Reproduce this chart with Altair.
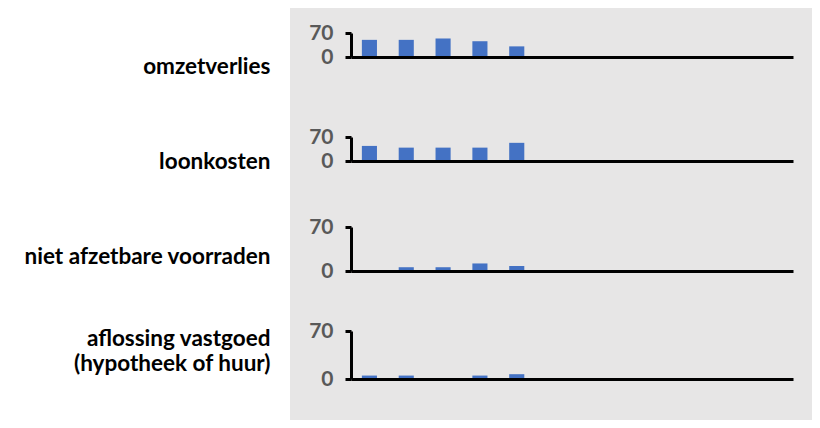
import altair as alt
import pandas as pd

# ---- data ----
slots = ["1", "2", "3", "4", "5", "6", "7", "8", "9", "10", "11", "12"]
measured = ["1", "2", "3", "4", "5"]
labels = [
    ["omzetverlies"],
    ["loonkosten"],
    ["niet afzetbare voorraden"],
    ["aflossing vastgoed", "(hypotheek of huur)"],
]
omzetverlies = [50, 50, 54, 46, 31]
loonkosten = [44, 39, 39, 39, 53]
voorraden = [0, 6, 6, 12, 8]
aflossing = [5, 5, 0, 5, 7]
series = [omzetverlies, loonkosten, voorraden, aflossing]
tick_values = [0, 70]

# ---- styling / layout ----
GRAY = "#e7e6e6"
BLUE = "#4472c4"
FONT = "Lato"
VIEW_W = 522
X_RANGE = [61, 503]
# (height, y of 0, y of 70, title baseline)
rows = [
    (97, 49, 25, 65),
    (95, 56, 32, 63),
    (100, 71, 27, 63),
    (120, 79, 31, 45),
]


def panel(values, label, geom):
    h, y0, y70, tb = geom
    df = pd.DataFrame({"slot": measured, "value": values})
    return (
        alt.Chart(df)
        .mark_bar(color=BLUE)
        .encode(
            x=alt.X(
                "slot:N",
                scale=alt.Scale(domain=slots, range=X_RANGE,
                                paddingInner=0.59, paddingOuter=0.295),
                axis=alt.Axis(labels=False, ticks=False, title=None,
                              domainColor="black", domainWidth=3,
                              offset=y0 - h, zindex=1),
            ),
            y=alt.Y(
                "value:Q",
                scale=alt.Scale(domain=[0, 70], range=[y0, y70], nice=False),
                axis=alt.Axis(
                    values=tick_values, grid=False, offset=-X_RANGE[0],
                    domainColor="black", domainWidth=3,
                    tickColor="black", tickWidth=3, tickSize=6,
                    labelFont=FONT, labelFontSize=21, labelFontWeight="bold",
                    labelColor="#595959", labelPadding=12, labelOverlap=False,
                    title=label if len(label) > 1 else label[0],
                    titleAngle=0, titleAlign="right", titleBaseline="alphabetic",
                    titleX=-81, titleY=tb, titleFont=FONT, titleFontSize=22.5,
                    titleFontWeight="bold", titleColor="black",
                    titleLineHeight=25, zindex=1,
                ),
            ),
        )
        .properties(width=VIEW_W, height=h)
    )


charts = [panel(s, l, g) for s, l, g in zip(series, labels, rows)]

chart = (
    alt.vconcat(*charts, spacing=0, bounds="flush")
    .properties(padding={"left": 15, "top": 0, "right": 0, "bottom": 0},
                background="white")
    .configure_view(fill=GRAY, strokeWidth=0)
)

chart.save("out.html", embed_options={"renderer": "svg", "actions": False})
